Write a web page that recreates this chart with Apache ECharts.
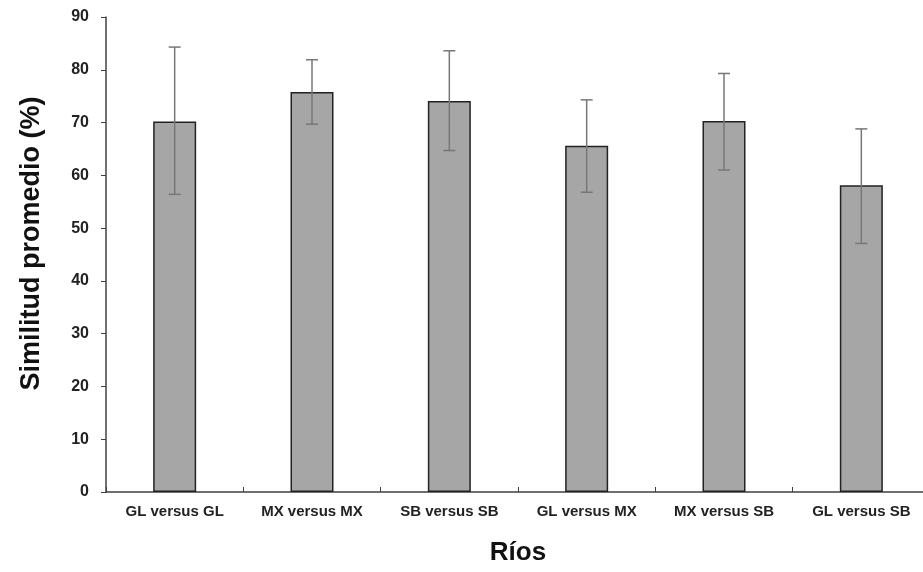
<!DOCTYPE html>
<html>
<head>
<meta charset="utf-8">
<script src="https://cdn.jsdelivr.net/npm/echarts@6/dist/echarts.min.js"></script>
<style>
  html, body { margin: 0; padding: 0; background: #fff; }
  #chart { width: 923px; height: 572px; }
</style>
</head>
<body>
<div id="chart"></div>
<script>
// categorias (comparaciones entre rios)
var categories = ['GL versus GL', 'MX versus MX', 'SB versus SB', 'GL versus MX', 'MX versus SB', 'GL versus SB']
// similitud promedio y barras de error
var means = [70.2, 75.8, 74.1, 65.6, 70.3, 58.1]
var lows  = [56.4, 69.7, 64.7, 56.8, 61.0, 47.1]
var highs = [84.3, 81.9, 83.6, 74.3, 79.3, 68.8]
var yTicks = [0, 90, 10]  // min, max, intervalo

var chart = echarts.init(document.getElementById('chart'))

var errData = categories.map(function (c, i) { return [i, lows[i], highs[i]] })

var font = 'Arial, "Liberation Sans", sans-serif'

var option = {
  animation: false,
  backgroundColor: '#fff',
  grid: { left: 106, right: -7, top: 17, bottom: 80, containLabel: false, outerBoundsMode: 'none' },
  xAxis: {
    type: 'category',
    data: categories,
    name: 'Ríos',
    nameLocation: 'middle',
    nameGap: 48,
    nameTextStyle: { fontFamily: font, fontSize: 26, fontWeight: 'bold', color: '#111' },
    axisLine: { lineStyle: { color: '#404040', width: 1.5 } },
    axisTick: { show: true, inside: true, length: 5, lineStyle: { color: '#404040' } },
    axisLabel: { fontFamily: font, fontSize: 15, fontWeight: 'bold', color: '#222', margin: 12 }
  },
  yAxis: {
    type: 'value',
    min: yTicks[0],
    max: yTicks[1],
    interval: yTicks[2],
    name: 'Similitud promedio (%)',
    nameLocation: 'middle',
    nameRotate: 90,
    nameGap: 61,
    nameTextStyle: { fontFamily: font, fontSize: 27, fontWeight: 'bold', color: '#111', padding: [0, 0, 0, 22] },
    axisLine: { show: true, lineStyle: { color: '#404040', width: 1.5 } },
    axisTick: { show: true, length: 5, lineStyle: { color: '#404040' } },
    axisLabel: { fontFamily: font, fontSize: 16, fontWeight: 'bold', color: '#222', margin: 17 },
    splitLine: { show: false }
  },
  series: [
    {
      type: 'bar',
      data: means,
      barWidth: 43,
      itemStyle: { color: '#a6a6a6', borderColor: '#222', borderWidth: 1.5 }
    },
    {
      type: 'custom',
      z: 5,
      data: errData,
      renderItem: function (params, api) {
        var x = api.value(0)
        var lo = api.coord([x, api.value(1)])
        var hi = api.coord([x, api.value(2)])
        var cap = 6
        var st = { stroke: '#777', lineWidth: 1.5 }
        return {
          type: 'group',
          children: [
            { type: 'line', shape: { x1: hi[0], y1: hi[1], x2: lo[0], y2: lo[1] }, style: st },
            { type: 'line', shape: { x1: hi[0] - cap, y1: hi[1], x2: hi[0] + cap, y2: hi[1] }, style: st },
            { type: 'line', shape: { x1: lo[0] - cap, y1: lo[1], x2: lo[0] + cap, y2: lo[1] }, style: st }
          ]
        }
      }
    }
  ]
}
chart.setOption(option)
</script>
</body>
</html>
